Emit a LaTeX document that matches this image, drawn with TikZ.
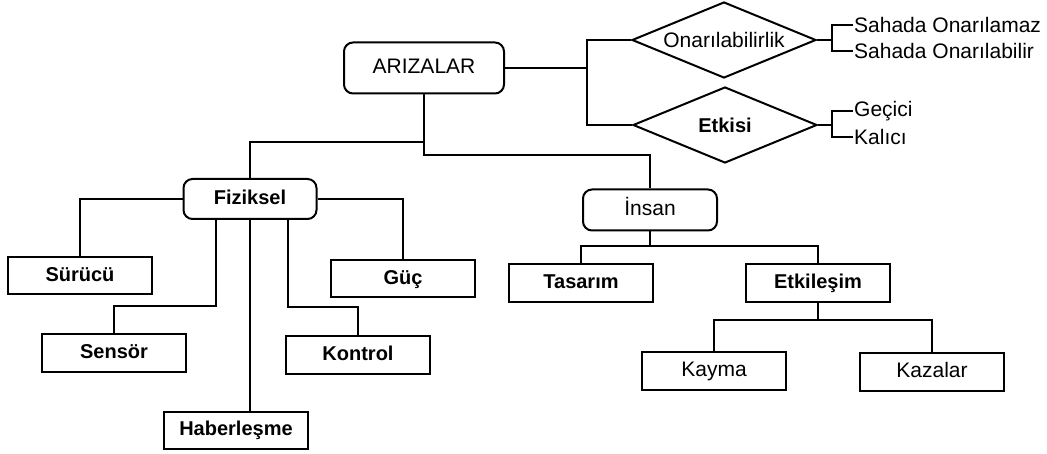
\documentclass[tikz,border=0pt]{standalone}
\usepackage{fontspec}
\setmainfont{Liberation Sans}
\usetikzlibrary{shapes.geometric}
\begin{document}
\begin{tikzpicture}[x=1pt,y=-1pt,
  every node/.style={font=\fontsize{21}{25}\selectfont},
  line/.style={line width=2pt, line join=miter},
  rbox/.style={draw, line width=2pt, rounded corners=9pt, inner sep=0pt, text height=15pt, text depth=4pt},
  sbox/.style={draw, line width=2pt, minimum width=144pt, minimum height=37pt, inner sep=0pt, text height=15pt, text depth=4pt},
  dia/.style={draw, diamond, aspect=2.42, line width=2pt, minimum width=184pt, minimum height=76pt, inner sep=0pt},
  lbl/.style={anchor=west, inner sep=1pt},
  bf/.style={font=\fontsize{20}{24}\selectfont\bfseries}
]
\useasboundingbox (0,0) rectangle (1047,454);
% main nodes
\node[rbox, minimum width=160pt, minimum height=51pt] (ariza) at (424,68) {ARIZALAR};
\node[dia] (onar) at (724,40) {Onarılabilirlik};
\node[dia, bf] (etk) at (725,125) {Etkisi};
\node[lbl] (s1) at (853,25) {Sahada Onarılamaz};
\node[lbl] (s2) at (853,51) {Sahada Onarılabilir};
\node[lbl] (g1) at (853,111) {Geçici};
\node[lbl] (g2) at (853,137) {Kalıcı};
% Fiziksel
\node[rbox, bf, minimum width=133pt, minimum height=40pt] (fiz) at (250,199) {Fiziksel};
\node[sbox, bf] (sur) at (80,276) {Sürücü};
\node[sbox, bf] (sen) at (114,353) {Sensör};
\node[sbox, bf] (hab) at (236,430) {Haberleşme};
\node[sbox, bf] (kon) at (358,355) {Kontrol};
\node[sbox, bf] (guc) at (403,279) {Güç};
% Insan
\node[rbox, minimum width=134pt, minimum height=41pt] (ins) at (650,210) {İnsan};
\node[sbox, bf, minimum height=38pt] (tas) at (581,283) {Tasarım};
\node[sbox, bf, minimum height=38pt] (etl) at (818,283) {Etkileşim};
\node[sbox, minimum height=38pt] (kay) at (714,371) {Kayma};
\node[sbox, minimum height=38pt] (kaz) at (932,372) {Kazalar};
% connectors
\coordinate (j1) at (587,0);
\coordinate (b1) at (832,0);
\draw[line] (ariza.east) -- (ariza.east -| j1) |- (onar.west);
\draw[line] (ariza.east -| j1) |- (etk.west);
\draw[line] (onar.east) -- (onar.east -| b1) |- (s1.west);
\draw[line] (onar.east -| b1) |- (s2.west);
\draw[line] (etk.east) -- (etk.east -| b1) |- (g1.west);
\draw[line] (etk.east -| b1) |- (g2.west);
\draw[line] (ariza.south) -- (ariza.south |- 0,142) -| (fiz.north);
\draw[line] (ariza.south |- 0,142) -- (ariza.south |- 0,155) -| (ins.north);
\draw[line] (fiz.west) -| (sur.north);
\draw[line] (fiz.east) -| (guc.north);
\draw[line] ([xshift=-34pt]fiz.south) -- ++(0,86) -| (sen.north);
\draw[line] ([xshift=38pt]fiz.south) -- ++(0,87) -| (kon.north);
\draw[line] (fiz.south) -- (fiz.south |- hab.north);
\draw[line] (ins.south) -- (ins.south |- 0,246);
\draw[line] (tas.north) -- (tas.north |- 0,246) -| (etl.north);
\draw[line] (etl.south) -- (etl.south |- 0,320);
\draw[line] (kay.north) -- (kay.north |- 0,320) -| (kaz.north);
\end{tikzpicture}
\end{document}
